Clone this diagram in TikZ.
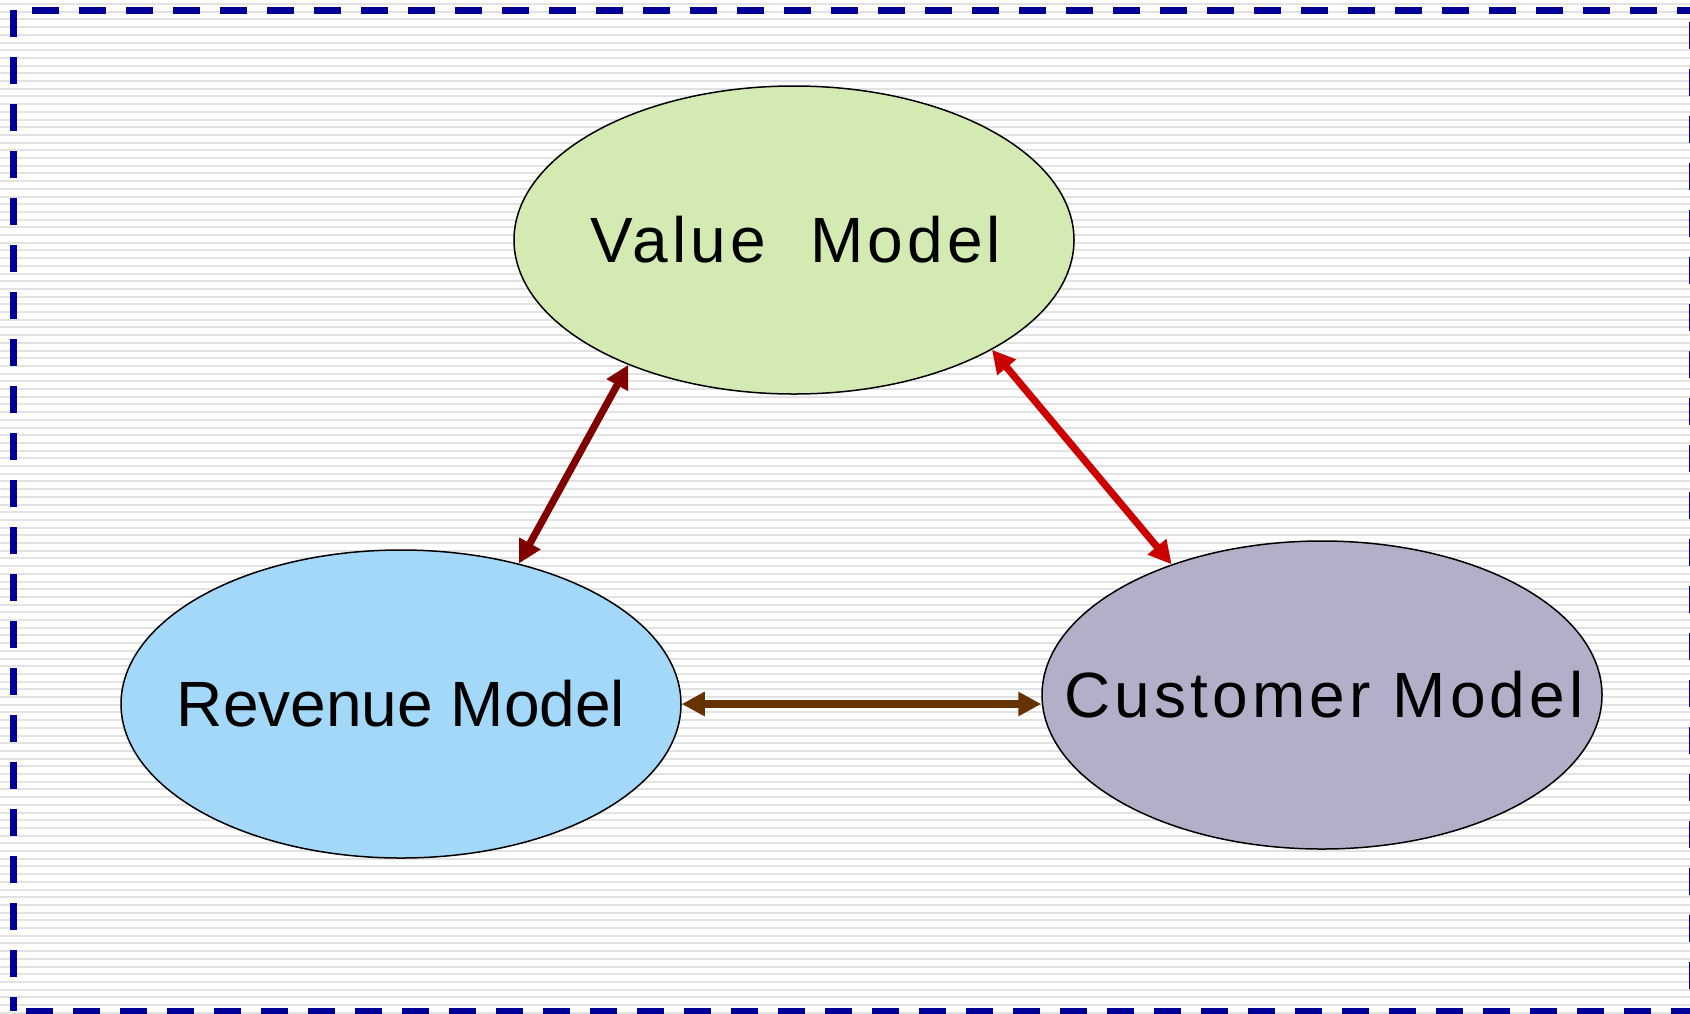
\documentclass[tikz,border=0pt]{standalone}
\usepackage{fontspec}
\setmainfont{Liberation Sans}
\newfontfamily\modelfont{Liberation Sans}
\newfontfamily\spacedfont[LetterSpace=6.5]{Liberation Sans}
\usetikzlibrary{shapes.geometric,arrows.meta}

\definecolor{valuegreen}{HTML}{D3EBB2}
\definecolor{revenueblue}{HTML}{A4D8F9}
\definecolor{customerlilac}{HTML}{B4AFC8}
\definecolor{frameblue}{HTML}{000099}
\definecolor{darkredarrow}{HTML}{800000}
\definecolor{redarrow}{HTML}{CC0000}
\definecolor{brownarrow}{HTML}{663300}
\definecolor{stripegray}{HTML}{E2E2E2}

\begin{document}
\begin{tikzpicture}[x=0.5pt,y=-0.5pt,
  model/.style={ellipse,draw=black,line width=0.75pt,minimum width=280pt,minimum height=154pt,inner sep=0pt},
  modeltext/.style={font=\modelfont\fontsize{32}{38}\selectfont},
  spacedtext/.style={font=\spacedfont\fontsize{32}{38}\selectfont},
  link/.style={line width=3.6pt,{Triangle[length=11.5pt,width=11.5pt]}-{Triangle[length=11.5pt,width=11.5pt]}},
  frameline/.style={draw=frameblue,line width=3.5pt,dash pattern=on 13.5pt off 10pt}]

% striped background
\useasboundingbox (0,0) rectangle (1690,1013);
\fill[white] (0,0) rectangle (1690,1013);
\foreach \i in {0,...,131}
  \fill[stripegray] (0,\i*7.7+3) rectangle (1690,\i*7.7+5);

% dashed frame
\draw[frameline] (13,10) -- (13,1011);
\draw[frameline,dash phase=14pt] (13,10) -- (1692,10);
\draw[frameline,dash phase=17.5pt] (1692,10) -- (1692,1011);
\draw[frameline,dash phase=17pt] (13,1011) -- (1692,1011);

% the three models
\node[model,fill=valuegreen,label={[spacedtext,xshift=1pt]center:Value\ \ Model}] (val) at (794,240) {};
\node[model,fill=revenueblue,label={[modeltext]center:Revenue Model}] (rev) at (401,704) {};
\node[model,fill=customerlilac,label={[spacedtext,xshift=1pt]center:Customer Model}] (cust) at (1322,695) {};

% links between them
\draw[link,darkredarrow] (rev.50) -- (val.217);
\draw[link,redarrow] (val.-29) -- (cust.139);
\draw[link,brownarrow] (rev.east) -- (rev.east -| cust.west);
\end{tikzpicture}
\end{document}
